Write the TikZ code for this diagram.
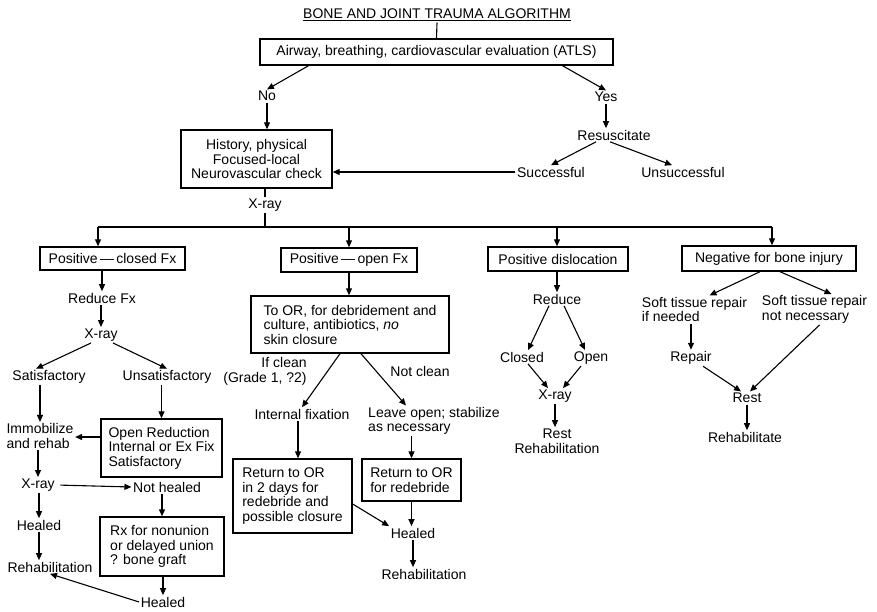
\documentclass[tikz,border=0pt]{standalone}
\usepackage{fontspec}
\setmainfont{Liberation Sans}
\usetikzlibrary{arrows.meta,calc}

\begin{document}
\begin{tikzpicture}[x=1pt, y=-1pt,
  every node/.style={font=\fontsize{14}{14.5}\selectfont, inner sep=1.5pt},
  box/.style={draw, line width=1.4pt, fill=white, inner sep=4pt},
  arr/.style={-{Triangle[length=7pt,width=6pt]}, line width=1.1pt},
  ln/.style={line width=1.1pt}]
  \useasboundingbox (0,0) rectangle (877,611);

  \node (title) at (437,15) {\underline{BONE AND JOINT TRAUMA ALGORITHM}};
  \node[box, minimum width=353pt, minimum height=26pt] (airway) at (436.5,52) {Airway, breathing, cardiovascular evaluation (ATLS)};
  \node (no) at (267,96) {No};
  \node (yes) at (606,97) {Yes};
  \node[box, align=center, minimum width=151pt, minimum height=58pt] (history) at (256.5,159) {History, physical\\Focused-local\\Neurovascular check};
  \node (resus) at (614,135) {Resuscitate};
  \node (success) at (551,172) {Successful};
  \node (unsuccess) at (683,172) {Unsuccessful};
  \node (xray0) at (265,205) {X-ray};
  \coordinate (busl) at (98,227);
  \coordinate (busr) at (772,227);

  \node[box, minimum width=145pt, minimum height=23pt] (posclosed) at (112.5,258.5) {Positive\,—\,closed Fx};
  \node[box, minimum width=136pt, minimum height=24pt] (posopen) at (349,260) {Positive\,—\,open Fx};
  \node[box, minimum width=140pt, minimum height=24pt] (posdisl) at (558,259) {Positive dislocation};
  \node[box, minimum width=174pt, minimum height=25pt] (negative) at (769,258.5) {Negative for bone injury};

  \node (reducefx) at (102,298) {Reduce Fx};
  \node (xray1) at (101,335) {X-ray};
  \node (satis) at (49,377) {Satisfactory};
  \node (unsatis) at (167,377) {Unsatisfactory};
  \node[align=left] (immob) at (40,436) {Immobilize\\and rehab};
  \node[box, align=left, minimum width=121pt, minimum height=58pt] (openred) at (161.5,448) {Open Reduction\\Internal or Ex Fix\\Satisfactory};
  \node (xray2) at (38,485) {X-ray};
  \node (nothealed) at (167,487) {Not healed};
  \node (healed1) at (39,525) {Healed};
  \node[box, align=left, minimum width=124pt, minimum height=59pt] (rx) at (162,546.5) {Rx for nonunion\\or delayed union\\? bone graft};
  \node (rehab1) at (50,567) {Rehabilitation};
  \node (healed2) at (163,602) {Healed};

  \node[box, align=left, minimum width=198pt, minimum height=57pt] (toor) at (350,324.5) {To OR, for debridement and\\culture, antibiotics, \textit{no}\\skin closure};
  \node[align=right] (ifclean) at (265,371.5) {If clean\\(Grade 1, ?2)};
  \node (notclean) at (420,371) {Not clean};
  \node (intfix) at (302,414) {Internal fixation};
  \node[align=left] (leaveopen) at (434,421) {Leave open; stabilize\\as necessary};
  \node[box, align=left, minimum width=119pt, minimum height=74pt] (returnor1) at (292.5,496) {Return to OR\\in 2 days for\\redebride and\\possible closure};
  \node[box, align=left, minimum width=99pt, minimum height=42pt] (returnor2) at (411.5,480) {Return to OR\\for redebride};
  \node (healed3) at (413,533) {Healed};
  \node (rehab3) at (424,574) {Rehabilitation};

  \node (reduce) at (557,299) {Reduce};
  \node (closed) at (522,357) {Closed};
  \node (open) at (591,358) {Open};
  \node (xray3) at (555,396) {X-ray};
  \node[align=center] (restrehab) at (557,441) {Rest\\Rehabilitation};

  \node[align=left] (softif) at (694.5,309.5) {Soft tissue repair\\if needed};
  \node[align=left] (softnot) at (814.5,309.5) {Soft tissue repair\\not necessary};
  \node (repair) at (691,358) {Repair};
  \node (rest) at (747,398) {Rest};
  \node (rehabilitate) at (745,437) {Rehabilitate};

  \draw[ln] (title.south) -- (airway.north);
  \draw[arr] ([xshift=-128pt]airway.south) -- (no.north);
  \draw[arr] ([xshift=126pt]airway.south) -- (yes.north);
  \draw[arr] (no.south) -- (no.south |- history.north);
  \draw[arr] (yes.south) -- (yes.south |- resus.north);
  \draw[arr] ([xshift=-18pt]resus.south) -- (success.north);
  \draw[arr] ([xshift=-4pt]resus.south) -- ([xshift=-11pt]unsuccess.north);
  \draw[arr] (success.west) -- (success.west -| history.east);
  \draw[ln] (xray0.north |- history.south) -- (xray0.north);
  \draw[ln] (xray0.south) -- (xray0.south |- busl);
  \draw[ln] (busl) -- (busr);
  \draw[arr] (busl) -- (busl |- posclosed.north);
  \draw[arr] (posopen.north |- busl) -- (posopen.north);
  \draw[arr] ([xshift=-1pt]posdisl.north |- busl) -- ([xshift=-1pt]posdisl.north);
  \draw[arr] (busr) -- (busr |- negative.north);

  \draw[arr] (reducefx.north |- posclosed.south) -- (reducefx.north);
  \draw[arr] (xray1.north |- reducefx.south) -- (xray1.north);
  \draw[arr] ([xshift=-10pt]xray1.south) -- ([xshift=-13pt]satis.north);
  \draw[arr] ([xshift=12pt]xray1.south) -- (unsatis.north);
  \draw[arr] (immob.north |- satis.south) -- (immob.north);
  \draw[arr] (openred.north |- unsatis.south) -- (openred.north);
  \draw[arr] ([yshift=11pt]openred.west) -- ([yshift=11pt]openred.west -| immob.east);
  \draw[arr] (xray2.north |- immob.south) -- (xray2.north);
  \draw[arr, shorten <=4pt] (xray2.east) -- (nothealed.west);
  \draw[arr] (rx.north |- nothealed.south) -- (rx.north);
  \draw[arr] (healed1.north |- xray2.south) -- (healed1.north);
  \draw[arr] (healed1.south) -- (healed1.south |- rehab1.north);
  \draw[arr] (healed2.north |- rx.south) -- (healed2.north);
  \draw[arr] (healed2.west) -- (rehab1.south);

  \draw[arr] (posopen.south) -- (posopen.south |- toor.north);
  \draw[arr] ([xshift=-10pt]toor.south) -- (intfix.north);
  \draw[arr] ([xshift=11pt]toor.south) -- ([xshift=-28pt]leaveopen.north);
  \draw[arr] ([xshift=-4pt]intfix.south) -- ([xshift=-4pt]intfix.south |- returnor1.north);
  \draw[arr] (returnor2.north |- leaveopen.south) -- (returnor2.north);
  \draw[arr] (returnor2.south) -- (returnor2.south |- healed3.north);
  \draw[arr] ([yshift=-8pt]returnor1.east) -- (healed3.north west);
  \draw[arr] (healed3.south) -- (healed3.south |- rehab3.north);

  \draw[arr] (reduce.north |- posdisl.south) -- (reduce.north);
  \draw[arr] ([xshift=-8pt]reduce.south) -- ([xshift=6pt]closed.north);
  \draw[arr] ([xshift=7pt]reduce.south) -- ([xshift=-6pt]open.north);
  \draw[arr] ([xshift=6pt]closed.south) -- ([xshift=-7pt]xray3.north);
  \draw[arr] ([xshift=-10pt]open.south) -- ([xshift=8pt]xray3.north);
  \draw[arr] (xray3.south) -- (xray3.south |- restrehab.north);

  \draw[arr] ([xshift=-9pt]negative.south) -- ([xshift=15pt]softif.north);
  \draw[arr] ([xshift=11pt]negative.south) -- ([xshift=17pt]softnot.north);
  \draw[arr] (repair.north |- softif.south) -- (repair.north);
  \draw[arr] ([xshift=12pt]repair.south) -- ([xshift=-6pt]rest.north);
  \draw[arr] ([xshift=5pt]softnot.south) -- ([xshift=3pt]rest.north);
  \draw[arr] (rest.south) -- (rest.south |- rehabilitate.north);
\end{tikzpicture}
\end{document}
